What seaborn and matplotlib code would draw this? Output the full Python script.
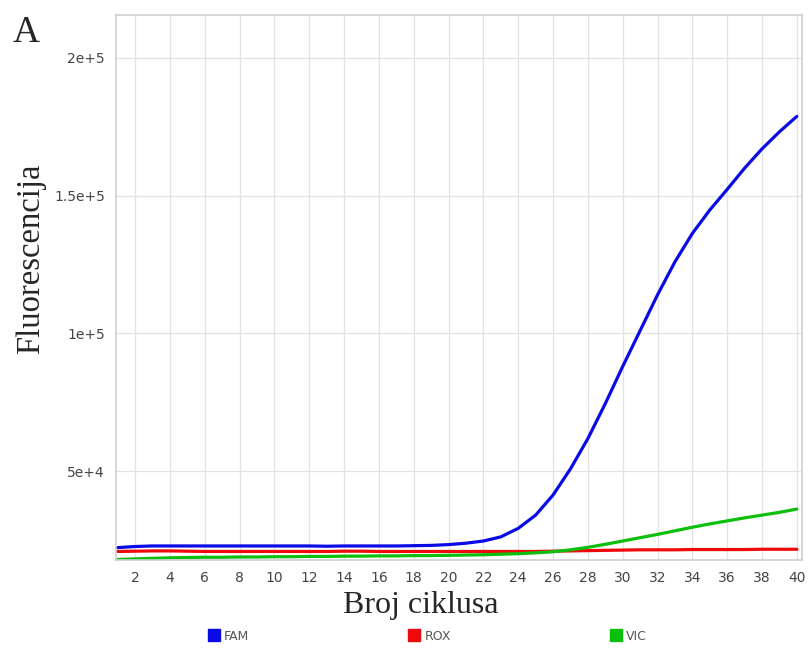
import numpy as np
import pandas as pd
import matplotlib
matplotlib.use("Agg")
import matplotlib.pyplot as plt
import seaborn as sns
from matplotlib.lines import Line2D

cycles = list(range(1, 41))
fam = [22200, 22600, 22800, 22800, 22800, 22800, 22800, 22800, 22800, 22800,
       22800, 22800, 22700, 22800, 22800, 22800, 22800, 22900, 23000, 23300,
       23800, 24600, 26100, 29200, 34000, 41300, 50800, 61800, 74500, 88000,
       101000, 114000, 126000, 136300, 144800, 152300, 160000, 167000, 173200, 178800]
rox = [20800, 20900, 21000, 21000, 20900, 20800, 20800, 20800, 20800, 20800,
       20800, 20800, 20800, 20900, 20900, 20800, 20800, 20800, 20800, 20800,
       20800, 20800, 20800, 20800, 20800, 20900, 21000, 21100, 21200, 21300,
       21400, 21400, 21400, 21500, 21500, 21500, 21500, 21600, 21600, 21600]
vic = [17900, 18100, 18300, 18500, 18600, 18700, 18700, 18800, 18800, 18900,
       18900, 19000, 19000, 19100, 19100, 19200, 19200, 19300, 19300, 19400,
       19500, 19600, 19800, 20000, 20300, 20700, 21400, 22300, 23400, 24600,
       25800, 27000, 28300, 29600, 30800, 31900, 33000, 34000, 35000, 36200]
series_names = ["FAM", "ROX", "VIC"]
series_colors = ["#0a0ae6", "#ee0a0a", "#0cbf0c"]
x_ticks = list(range(2, 41, 2))
y_ticks = [50000, 100000, 150000, 200000]
y_tick_labels = ["5e+4", "1e+5", "1.5e+5", "2e+5"]

df = pd.DataFrame({
    "cycle": cycles * 3,
    "value": fam + rox + vic,
    "dye": ["FAM"] * 40 + ["ROX"] * 40 + ["VIC"] * 40,
})

sns.set_style("white")
fig = plt.figure(figsize=(8.11, 6.48), dpi=100)
ax = fig.add_axes([0.143, 0.1358, 0.846, 0.841])

sns.lineplot(data=df, x="cycle", y="value", hue="dye", hue_order=series_names,
             palette=dict(zip(series_names, series_colors)), linewidth=2.3,
             legend=False, ax=ax)

ax.set_xlim(0.9, 40.3)
ax.set_ylim(17700, 215600)
ax.set_xticks(x_ticks)
ax.set_yticks(y_ticks)
ax.set_yticklabels(y_tick_labels)
ax.grid(True, color="#e2e2e2", linewidth=0.9)
ax.set_axisbelow(True)
for s in ax.spines.values():
    s.set_color("#cfcfcf")
    s.set_linewidth(1.2)
ax.tick_params(axis="both", length=0, labelsize=10, labelcolor="#444444", pad=8,
               labelfontfamily="DejaVu Sans")
ax.set_xlabel("")
ax.set_ylabel("")

fig.text(0.038, 0.60, "Fluorescencija", rotation=90, ha="center", va="center",
         family="Liberation Serif", fontsize=23.5)
fig.text(0.519, 0.066, "Broj ciklusa", ha="center", va="center",
         family="Liberation Serif", fontsize=23)
fig.text(0.015, 0.950, "A", ha="left", va="center",
         family="Liberation Serif", fontsize=27)

handles = [Line2D([], [], marker="s", linestyle="none", color=c, markersize=8)
           for c in series_colors]
fig.legend(handles, series_names, ncol=3, loc="center",
           bbox_to_anchor=(0.527, 0.018), frameon=False, fontsize=9,
           handletextpad=0.3, columnspacing=12.7, labelcolor="#555555",
           handlelength=1.0)

fig.savefig("out.png", dpi=100)
